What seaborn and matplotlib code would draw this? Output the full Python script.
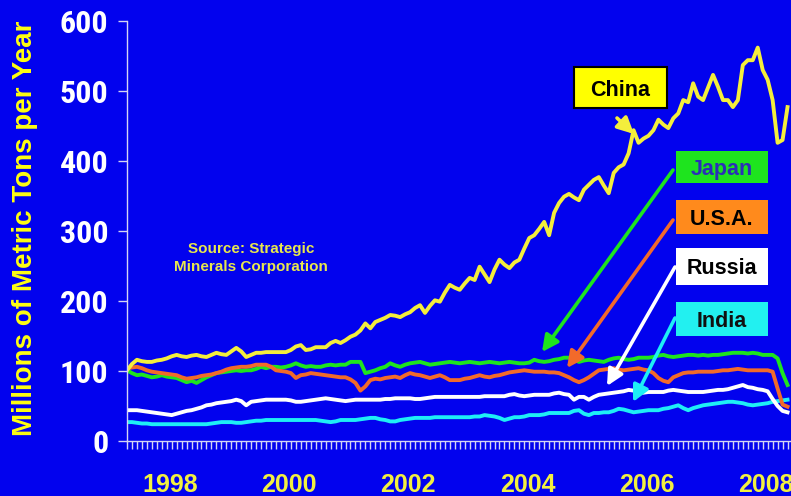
import numpy as np
import pandas as pd
import matplotlib
matplotlib.use("Agg")
import matplotlib.pyplot as plt
from matplotlib import font_manager
from matplotlib.patches import Rectangle, FancyArrowPatch
from matplotlib.ticker import FixedLocator
import seaborn as sns

# ---- data: monthly steel production, millions of metric tons per year ----
start_month = "1997-04"

china = [101, 110, 116, 114, 113, 113, 115, 116, 118, 121,
         123, 121, 120, 122, 123, 121, 120, 123, 126, 124,
         123, 128, 133, 128, 120, 123, 126, 126, 127, 127,
         127, 127, 127, 130, 135, 137, 130, 131, 134, 134,
         134, 140, 143, 140, 144, 149, 152, 158, 168, 161,
         170, 173, 176, 180, 179, 177, 181, 184, 190, 194,
         183, 193, 201, 199, 212, 223, 219, 216, 225, 233,
         230, 249, 238, 227, 245, 259, 252, 247, 255, 259,
         275, 290, 294, 303, 313, 294, 326, 340, 349, 353,
         348, 344, 359, 366, 373, 377, 365, 354, 383, 391,
         395, 411, 444, 426, 432, 436, 444, 459, 452, 447,
         461, 468, 487, 484, 511, 492, 487, 505, 523, 506,
         487, 487, 477, 487, 537, 544, 544, 562, 530, 516,
         487, 426, 430, 477]

japan = [101, 97, 94, 95, 93, 91, 92, 94, 92, 91,
         90, 87, 84, 86, 83, 87, 91, 94, 97, 98,
         99, 100, 101, 100, 101, 101, 103, 106, 104, 106,
         106, 105, 106, 108, 111, 108, 106, 107, 106, 106,
         108, 109, 108, 109, 109, 113, 113, 113, 97, 99,
         101, 104, 106, 111, 108, 106, 109, 111, 112, 113,
         111, 109, 110, 111, 112, 113, 112, 111, 112, 113,
         112, 111, 112, 113, 112, 111, 112, 113, 112, 111,
         111, 112, 116, 114, 113, 114, 116, 117, 119, 119,
         116, 113, 115, 116, 115, 114, 113, 116, 118, 119,
         117, 116, 117, 119, 119, 119, 120, 122, 123, 121,
         120, 121, 122, 123, 123, 122, 123, 122, 123, 123,
         124, 125, 126, 126, 126, 125, 126, 125, 123, 123,
         123, 118, 97, 80]

usa = [104, 105, 106, 104, 101, 99, 98, 97, 96, 95,
       94, 91, 89, 90, 91, 93, 94, 95, 97, 99,
       102, 104, 105, 106, 106, 107, 109, 109, 109, 106,
       101, 100, 99, 97, 90, 94, 95, 97, 96, 95,
       94, 93, 92, 91, 91, 88, 83, 72, 78, 87,
       89, 88, 90, 91, 92, 90, 94, 97, 95, 94,
       92, 90, 92, 94, 91, 87, 87, 87, 89, 90,
       92, 94, 92, 91, 93, 94, 96, 98, 99, 100,
       101, 100, 99, 99, 99, 98, 98, 97, 94, 91,
       87, 84, 87, 91, 96, 101, 102, 103, 104, 102,
       101, 102, 103, 104, 102, 101, 97, 90, 86, 84,
       91, 94, 97, 98, 98, 99, 99, 99, 99, 100,
       101, 101, 102, 103, 102, 101, 101, 101, 101, 101,
       99, 75, 52, 49]

russia = [44, 44, 44, 43, 42, 41, 40, 39, 38, 37,
          39, 41, 43, 44, 46, 48, 51, 52, 54, 55,
          56, 57, 59, 57, 51, 56, 57, 58, 59, 59,
          59, 59, 59, 58, 56, 56, 57, 58, 59, 60,
          61, 60, 59, 58, 57, 58, 59, 59, 59, 59,
          59, 59, 60, 60, 61, 61, 61, 61, 60, 60,
          61, 62, 63, 63, 63, 63, 63, 63, 63, 63,
          63, 63, 64, 64, 64, 64, 64, 66, 67, 65,
          64, 65, 66, 66, 66, 66, 68, 69, 67, 66,
          59, 63, 63, 59, 63, 66, 67, 68, 69, 70,
          71, 73, 72, 70, 69, 70, 70, 70, 70, 72,
          73, 72, 71, 70, 70, 70, 70, 71, 72, 73,
          73, 74, 76, 78, 80, 77, 76, 74, 73, 71,
          60, 50, 43, 41]

india = [27, 27, 26, 25, 25, 24, 24, 24, 24, 24,
         24, 24, 24, 24, 24, 24, 24, 25, 26, 27,
         27, 27, 26, 26, 27, 28, 29, 29, 30, 30,
         30, 30, 30, 30, 30, 30, 30, 30, 30, 29,
         28, 27, 28, 30, 30, 30, 30, 31, 32, 33,
         33, 31, 30, 28, 28, 30, 31, 32, 33, 33,
         33, 33, 34, 34, 34, 34, 34, 34, 34, 34,
         35, 35, 37, 36, 35, 33, 30, 32, 34, 34,
         35, 37, 37, 37, 38, 40, 40, 40, 40, 40,
         43, 44, 39, 37, 40, 40, 41, 41, 43, 46,
         45, 43, 41, 42, 43, 44, 44, 44, 46, 47,
         49, 51, 47, 44, 47, 49, 51, 52, 53, 54,
         55, 56, 56, 55, 54, 52, 51, 52, 53, 54,
         56, 57, 58, 59]

countries = ["China", "Japan", "U.S.A.", "Russia", "India"]
year_labels = ["1998", "2000", "2002", "2004", "2006", "2008"]
y_ticks = [0, 100, 200, 300, 400, 500, 600]

# ---- styling ----
BG = "#0202ee"
AXC = "#d4d4f4"
YEL = "#f2f040"
line_colors = {"China": "#f4ee3c", "Japan": "#1ee41e", "U.S.A.": "#f26a2a",
               "Russia": "#ffffff", "India": "#1eeef6"}
box_colors = {"China": "#ffff00", "Japan": "#1ee41e", "U.S.A.": "#ff8a1c",
              "Russia": "#ffffff", "India": "#22f0f0"}
text_colors = {"China": "black", "Japan": "#2b2fb8", "U.S.A.": "black",
               "Russia": "black", "India": "#111111"}

# a narrow face for the value axis if one is available
installed = {f.name for f in font_manager.fontManager.ttflist}
narrow_face = next((n for n in ["Liberation Sans Narrow", "Arial Narrow",
                                "Roboto Condensed", "Open Sans Condensed",
                                "DejaVu Sans Condensed"] if n in installed), None)
if narrow_face:
    ytick_font = dict(family=[narrow_face, "Liberation Sans"], fontsize=23)
else:
    ytick_font = dict(family="Liberation Sans", fontsize=20.5)

series = {"China": china, "Japan": japan, "U.S.A.": usa,
          "Russia": russia, "India": india}
periods = pd.period_range(start_month, periods=len(china), freq="M")
start = pd.Period(start_month, freq="M")
month_idx = [(p - start).n for p in periods]

df = pd.concat([pd.DataFrame({"month": month_idx, "value": vals, "country": name})
                for name, vals in series.items()], ignore_index=True)

W, H = 791, 496
fig = plt.figure(figsize=(W / 100, H / 100), dpi=100, facecolor=BG)
ax = fig.add_axes([127 / W, 1 - 441 / H, (W - 127) / W, (441 - 21) / H])
ax.set_facecolor(BG)

draw_order = ["India", "Russia", "Japan", "U.S.A.", "China"]
sns.lineplot(data=df, x="month", y="value", hue="country", hue_order=draw_order,
             palette=line_colors, linewidth=2.8, legend=False, errorbar=None, ax=ax)

ax.set_xlim(0, 133.7)
ax.set_ylim(0, 600)
ax.set_xlabel("")
ax.set_ylabel("")

# year labels sit at the turn of each even year
label_pos = [(pd.Period(f"{y}-01", freq="M") - start).n - 0.35 for y in year_labels]
ax.set_xticks(label_pos, labels=year_labels, fontsize=18, fontweight="bold",
              color=YEL, family="Liberation Sans")
ax.xaxis.set_minor_locator(FixedLocator(month_idx))
ax.tick_params(axis="x", which="major", length=0, pad=23)
ax.tick_params(axis="x", which="minor", length=5.5, width=1, color=AXC, direction="out")

ax.set_yticks(y_ticks, labels=[str(v) for v in y_ticks], fontweight="bold",
              color="white", **ytick_font)
ax.tick_params(axis="y", length=6.5, width=1, color=AXC, pad=7)

for side in ("top", "right"):
    ax.spines[side].set_visible(False)
for side in ("left", "bottom"):
    ax.spines[side].set_color(AXC)
    ax.spines[side].set_linewidth(1)

fig.text(25 / W, 1 - 228 / H, "Millions of Metric Tons per Year", rotation=90,
         ha="center", va="center", fontsize=20, fontweight="bold", color="#ffff10",
         family="Liberation Sans")

ax.text(0.187, 0.436, "Source: Strategic\nMinerals Corporation", transform=ax.transAxes,
        ha="center", va="center", fontsize=11, fontweight="bold", color="#e8e84c",
        family="Liberation Sans", linespacing=1.4)


def fig_xy(x, y):
    return x / W, 1 - y / H


# label boxes (pixel extents: left, top, right, bottom) and callout arrows
boxes = {"China": (574, 67, 667, 108), "Japan": (676, 151, 768, 183),
         "U.S.A.": (676, 200, 768, 234), "Russia": (676, 248, 768, 285),
         "India": (676, 302, 768, 336)}
arrows = {"China": ((617, 118), (634, 134)), "Japan": ((673, 170), (542, 352)),
          "U.S.A.": ((673, 220), (567, 368)), "Russia": ((675, 267), (607, 386)),
          "India": ((675, 318), (633, 402))}

for name in countries:
    l, t, r, b = boxes[name]
    x0, y0 = fig_xy(l, b)
    x1, y1 = fig_xy(r, t)
    edge = "black" if name == "China" else "none"
    fig.add_artist(Rectangle((x0, y0), x1 - x0, y1 - y0, transform=fig.transFigure,
                             facecolor=box_colors[name], edgecolor=edge, linewidth=1.5,
                             zorder=5))
    fig.text((x0 + x1) / 2, (y0 + y1) / 2, name, ha="center", va="center_baseline",
             fontsize=15.5, fontweight="bold", color=text_colors[name],
             family="Liberation Sans", zorder=6)
    (sx, sy), (ex, ey) = arrows[name]
    fig.add_artist(FancyArrowPatch(fig_xy(sx, sy), fig_xy(ex, ey), transform=fig.transFigure,
                                   arrowstyle="-|>,head_length=0.7,head_width=0.35",
                                   mutation_scale=14, color=line_colors[name],
                                   linewidth=2.6, zorder=4, shrinkA=0, shrinkB=0))

fig.savefig("out.png", dpi=100, facecolor=BG)
